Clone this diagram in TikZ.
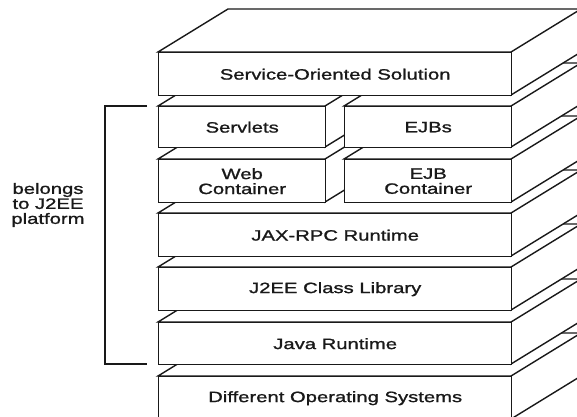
\documentclass[tikz,border=0pt]{standalone}
\usepackage{fontspec}
\setmainfont{Liberation Sans}[FakeStretch=1.35,FakeBold=1.2]
\newcommand\slab[6]{% name, x, y, width, height, text
  \filldraw[face] (#2,#3) -- ++(70,-43) -- ++(#4,0) -- ++(0,#5) -- ++(-70,43) -- ++(0,-#5) -- cycle;
  \draw[face] (#2+#4,#3) -- ++(70,-43);
  \node[face, lbl, minimum width=#4pt, minimum height=#5pt, anchor=north west] (#1) at (#2,#3) {#6};
}
\begin{document}
\begin{tikzpicture}[x=1pt,y=-1pt,
  face/.style={draw=black!90, line width=1.4pt, fill=white, line join=miter},
  lbl/.style={font=\fontsize{15}{15}\selectfont, align=center, inner sep=0pt, text=black!90},
  brk/.style={draw=black!90, line width=1.4pt}]
\useasboundingbox (0,0) rectangle (577,416);
\clip (0,0) rectangle (577,416);
\slab{os}{158}{376}{353}{43}{Different Operating Systems}
\slab{java}{158}{322}{353}{42}{Java Runtime}
\slab{lib}{158}{267}{353}{43}{J2EE Class Library}
\slab{jax}{158}{213}{353}{43}{JAX-RPC Runtime}
\slab{web}{158}{159}{167}{43}{Web\\Container}
\slab{ejbc}{344}{159}{167}{43}{EJB\\Container}
\slab{serv}{158}{106}{167}{41}{Servlets}
\slab{ejb}{344}{106}{167}{41}{EJBs}
\slab{soa}{158}{52}{353}{43}{Service-Oriented Solution}
\coordinate (b1) at (147,106);
\coordinate (b2) at (147,364);
\draw[brk] (b1) -- ++(-42,0) |- (b2);
\node[lbl] (j2ee) at (48,205) {belongs\\to J2EE\\platform};
\end{tikzpicture}
\end{document}
